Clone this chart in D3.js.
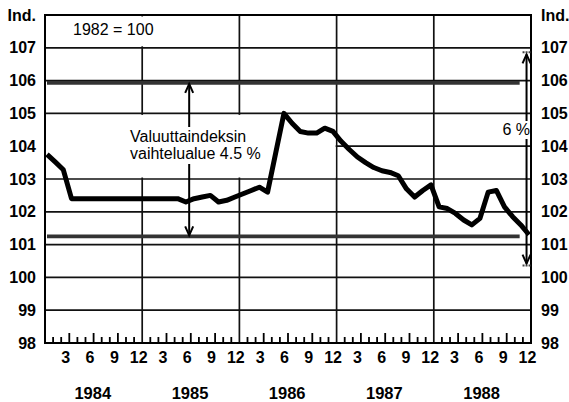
<!DOCTYPE html>
<html>
<head>
<meta charset="utf-8">
<script src="https://cdn.jsdelivr.net/npm/d3@7"></script>
<style>
  body { margin: 0; background: #fff; }
  svg { display: block; font-family: "Liberation Sans", Arial, sans-serif; }
  .note { font-size: 16px; fill: #000; }
</style>
</head>
<body>
<script>
// Chart data
const years = [1984, 1985, 1986, 1987, 1988];
const monthLabels = [3, 6, 9, 12];
const yTicks = [98, 99, 100, 101, 102, 103, 104, 105, 106, 107];
// Currency index, monthly, Jan 1984 .. Dec 1988 (1982 = 100)
const indexValues = [
  103.75, 103.52, 103.28, 102.4, 102.4, 102.4, 102.4, 102.4, 102.4, 102.4, 102.4, 102.4,
  102.4, 102.4, 102.4, 102.4, 102.4, 102.3, 102.4, 102.45, 102.5, 102.3, 102.35, 102.45,
  102.55, 102.65, 102.75, 102.6, 103.8, 105.0, 104.7, 104.45, 104.4, 104.4, 104.55, 104.45,
  104.15, 103.9, 103.67, 103.5, 103.35, 103.25, 103.2, 103.1, 102.7, 102.45, 102.65, 102.82,
  102.15, 102.1, 101.95, 101.75, 101.6, 101.8, 102.6, 102.65, 102.15, 101.85, 101.6, 101.3,
];
const bandLimits = [101.25, 105.93];   // fluctuation range 4.5 %
const sixPercent = [100.42, 106.8];    // 6 % range
const baseLabel = '1982 = 100';
const bandText = ['Valuuttaindeksin', 'vaihtelualue 4.5 %'];
const sixText = '6 %';

// SVG canvas
const width = 569;
const height = 402;
const plotLeft = 45;
const plotRight = 531;
const plotTop = 15;
const plotBottom = 343;

// Scales
const x = d3.scaleLinear().domain([0, 60]).range([plotLeft, plotRight]); // months since Jan 1984
const xi = d3.scaleLinear().domain([0, indexValues.length - 1]).range([plotLeft + 2, plotRight - 2]);
const y = d3.scaleLinear().domain([98, 108]).range([plotBottom, plotTop]);

const svg = d3.select('body')
  .append('svg')
    .attr('width', width)
    .attr('height', height);

// Horizontal grid
svg.selectAll('line.hgrid')
    .data(yTicks.filter((d) => d > 98))
  .enter().append('line')
    .attr('class', 'hgrid')
    .attr('x1', plotLeft)
    .attr('x2', plotRight)
    .attr('y1', (d) => y(d))
    .attr('y2', (d) => y(d))
    .attr('stroke', '#111')
    .attr('stroke-width', 1.7);

// Vertical year lines
svg.selectAll('line.vgrid')
    .data(years.slice(1))
  .enter().append('line')
    .attr('class', 'vgrid')
    .attr('x1', (d, i) => x((i + 1) * 12))
    .attr('x2', (d, i) => x((i + 1) * 12))
    .attr('y1', plotTop)
    .attr('y2', plotBottom)
    .attr('stroke', '#111')
    .attr('stroke-width', 1.7);

// Frame
svg.append('rect')
    .attr('x', plotLeft)
    .attr('y', plotTop)
    .attr('width', plotRight - plotLeft)
    .attr('height', plotBottom - plotTop)
    .attr('fill', 'none')
    .attr('stroke', '#000')
    .attr('stroke-width', 2);

// White boxes behind the notes
svg.append('rect')
    .attr('x', plotLeft + 1)
    .attr('y', y(105) + 1.5)
    .attr('width', x(36) - plotLeft - 2)
    .attr('height', y(103) - y(105) - 3)
    .attr('fill', '#fff');

svg.append('rect')
    .attr('x', 68)
    .attr('y', plotTop + 1.5)
    .attr('width', 88)
    .attr('height', y(107) - plotTop - 3)
    .attr('fill', '#fff');

svg.append('text')
    .attr('class', 'note')
    .attr('x', 73)
    .attr('y', 35)
    .text(baseLabel);

svg.selectAll('text.band')
    .data(bandText)
  .enter().append('text')
    .attr('class', 'note band')
    .attr('x', 130)
    .attr('y', (d, i) => 142 + i * 16.5)
    .text((d) => d);

// Fluctuation band limits
svg.selectAll('line.band')
    .data(bandLimits)
  .enter().append('line')
    .attr('class', 'band')
    .attr('x1', plotLeft + 2)
    .attr('x2', x(58.6))
    .attr('y1', (d) => y(d))
    .attr('y2', (d) => y(d))
    .attr('stroke', '#333')
    .attr('stroke-width', 3.8);

// Arrows
const arrowHead = (g, px, py, dir) => {
  g.append('path')
      .attr('d', `M${px - 4},${py + dir * 9} L${px},${py} L${px + 4},${py + dir * 9}`)
      .attr('fill', 'none')
      .attr('stroke', '#000')
      .attr('stroke-width', 2);
};

const midX = x(17.8);
svg.append('line')
    .attr('x1', midX).attr('x2', midX)
    .attr('y1', y(bandLimits[1]) + 1).attr('y2', 127)
    .attr('stroke', '#000').attr('stroke-width', 2);
svg.append('line')
    .attr('x1', midX).attr('x2', midX)
    .attr('y1', 164).attr('y2', y(bandLimits[0]) - 1)
    .attr('stroke', '#000').attr('stroke-width', 2);
arrowHead(svg, midX, y(bandLimits[1]) + 1, 1);
arrowHead(svg, midX, y(bandLimits[0]) - 1, -1);

const sixX = x(59.45);
svg.append('line')
    .attr('x1', sixX).attr('x2', sixX)
    .attr('y1', y(sixPercent[1])).attr('y2', y(sixPercent[0]))
    .attr('stroke', '#000').attr('stroke-width', 2);
arrowHead(svg, sixX, y(sixPercent[1]), 1);
arrowHead(svg, sixX, y(sixPercent[0]), -1);
svg.selectAll('line.hatch')
    .data(sixPercent)
  .enter().append('line')
    .attr('class', 'hatch')
    .attr('x1', sixX - 4).attr('x2', sixX + 4)
    .attr('y1', (d, i) => y(d) + (i ? -2 : 2))
    .attr('y2', (d, i) => y(d) + (i ? -2 : 2))
    .attr('stroke', '#444').attr('stroke-width', 2)
    .attr('stroke-dasharray', '2,1');

svg.append('rect')
    .attr('x', 500)
    .attr('y', 121)
    .attr('width', 30)
    .attr('height', 18)
    .attr('fill', '#fff');
svg.append('text')
    .attr('class', 'note')
    .attr('x', 530)
    .attr('y', 135)
    .attr('text-anchor', 'end')
    .text(sixText);

// Index line
const line = d3.line()
  .x((d, i) => xi(i))
  .y((d) => y(d));

svg.append('path')
    .datum(indexValues)
    .attr('d', line)
    .attr('fill', 'none')
    .attr('stroke', '#000')
    .attr('stroke-width', 5)
    .attr('stroke-linejoin', 'round');

// Month labels
const monthPos = years.flatMap((yr, i) => monthLabels.map((m) => i * 12 + m - 0.5));
svg.append('g')
    .attr('class', 'tlabel')
    .attr('transform', `translate(0,${plotBottom})`)
    .call(d3.axisBottom(x).tickValues(monthPos).tickSize(0).tickPadding(9)
      .tickFormat((d) => Math.round(d + 0.5) % 12 || 12))
    .call((g) => g.select('.domain').remove());

// Year labels
svg.selectAll('text.year')
    .data(years)
  .enter().append('text')
    .attr('class', 'year')
    .attr('x', (d, i) => x(i * 12 + 5.9))
    .attr('y', 399)
    .attr('text-anchor', 'middle')
    .attr('font-weight', 'bold')
    .attr('font-size', 16.5)
    .text((d) => d);

// Y axes, left and right
const yFormat = (d) => (d === 108 ? 'Ind.' : d);
svg.append('g')
    .attr('class', 'tlabel')
    .attr('transform', `translate(${plotLeft},0)`)
    .call(d3.axisLeft(y).tickValues([...yTicks, 108]).tickSize(0).tickPadding(9).tickFormat(yFormat))
    .call((g) => g.select('.domain').remove());
svg.append('g')
    .attr('class', 'tlabel')
    .attr('transform', `translate(${plotRight},0)`)
    .call(d3.axisRight(y).tickValues([...yTicks, 108]).tickSize(0).tickPadding(10).tickFormat(yFormat))
    .call((g) => g.select('.domain').remove());

svg.selectAll('.tlabel text')
    .attr('fill', '#000')
    .attr('font-family', '"Liberation Sans", Arial, sans-serif')
    .attr('font-weight', 'bold')
    .attr('font-size', 16);

// Month ticks (upward from the bottom, taller every quarter), drawn last
const monthTicks = d3.range(1, 60).filter((d) => d % 12 !== 0);
svg.append('path')
    .attr('class', 'mticks')
    .attr('d', monthTicks
      .map((d) => `M${x(d)},${plotBottom} V${plotBottom - (d % 3 === 0 ? 10 : 6)}`)
      .join(' '))
    .attr('fill', 'none')
    .attr('stroke', '#000')
    .attr('stroke-width', 1.8);
</script>
</body>
</html>
